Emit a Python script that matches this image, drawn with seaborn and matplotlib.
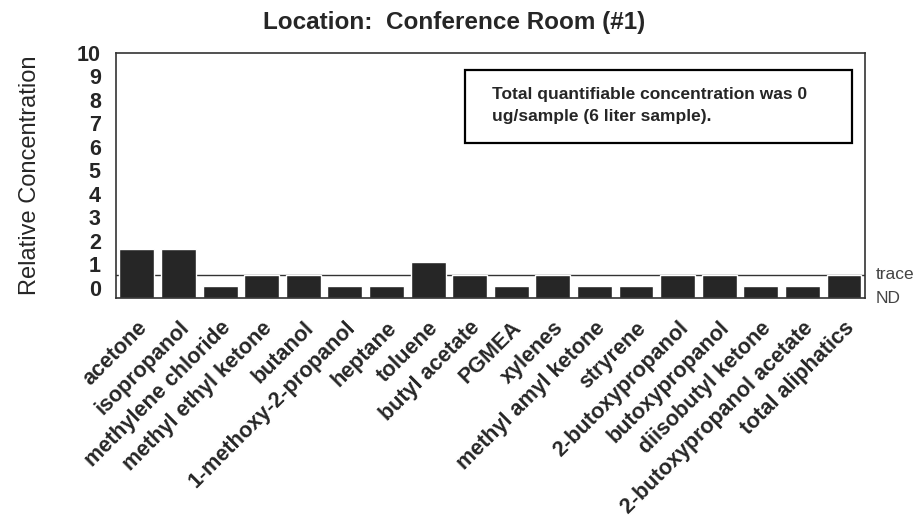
import numpy as np
import pandas as pd
import matplotlib
matplotlib.use("Agg")
import matplotlib.pyplot as plt
import seaborn as sns

# compounds as printed on the chart (spelling kept)
compounds = [
    "acetone", "isopropanol", "methylene chloride", "methyl ethyl ketone",
    "butanol", "1-methoxy-2-propanol", "heptane", "toluene", "butyl acetate",
    "PGMEA", "xylenes", "methyl amyl ketone", "stryrene", "2-butoxypropanol",
    "butoxypropanol", "diisobutyl ketone", "2-butoxypropanol acetate",
    "total aliphatics",
]
# relative concentration
rel_conc = [1.65, 1.65, 0.07, 0.55, 0.55, 0.07, 0.07, 1.1, 0.55,
            0.07, 0.55, 0.07, 0.07, 0.55, 0.55, 0.07, 0.07, 0.55]
y_ticks = list(range(0, 11))
nd_level = -0.43
trace_level = 0.55

title = "Location:  Conference Room (#1)"
note = "Total quantifiable concentration was 0\nug/sample (6 liter sample)."

sns.set_style("white")
plt.rcParams["font.family"] = ["Liberation Sans", "DejaVu Sans"]

df = pd.DataFrame({"compound": compounds, "value": rel_conc})
df["height"] = df["value"] - nd_level

fig = plt.figure(figsize=(9.21, 5.27), dpi=100)
ax = fig.add_axes([0.126, 0.4345, 0.813, 0.465])

ax.axhline(trace_level, color="#333333", lw=1.0, zorder=1)
sns.barplot(data=df, x="compound", y="height", bottom=nd_level, color="#262626",
            saturation=1, width=0.84, ax=ax, zorder=2)

ax.set_ylim(nd_level, 10)
ax.set_xlim(-0.5, len(compounds) - 0.5)
ax.set_yticks(y_ticks)
ax.set_yticklabels([str(t) for t in y_ticks], fontsize=15.5, fontweight="bold")
ax.tick_params(axis="y", length=0, pad=11)
ax.set_xticks(range(len(compounds)))
ax.set_xticklabels(compounds, rotation=45, ha="right", rotation_mode="anchor",
                   fontsize=15.5, fontweight="bold")
ax.tick_params(axis="x", length=0, pad=14)
ax.set_xlabel("")
ax.set_ylabel("Relative Concentration", fontsize=17, labelpad=26)
ax.set_title(title, fontsize=17.5, fontweight="bold", pad=17, x=0.452)

for s in ax.spines.values():
    s.set_color("#333333")
    s.set_linewidth(1.2)

# trace / ND markers on the right
ax.text(1.015, trace_level, "trace", transform=ax.get_yaxis_transform(),
        fontsize=12.5, color="#444444", va="center", ha="left")
ax.text(1.015, nd_level, "ND", transform=ax.get_yaxis_transform(),
        fontsize=12.5, color="#444444", va="center", ha="left")

ax.text(0.502, 0.785, note, transform=ax.transAxes, fontsize=12.5,
        fontweight="bold", va="center", ha="left", linespacing=1.55)
box = plt.Rectangle((0.466, 0.633), 0.517, 0.298, transform=ax.transAxes,
                    fill=False, ec="black", lw=1.6, zorder=3)
ax.add_patch(box)

fig.savefig("out.png", dpi=100)
